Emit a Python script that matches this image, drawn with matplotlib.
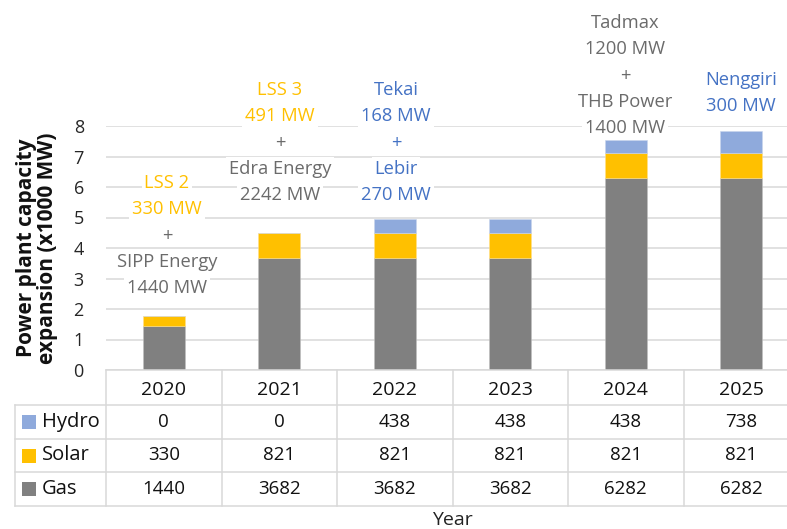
import matplotlib
matplotlib.use("Agg")
import matplotlib.pyplot as plt
from matplotlib.patches import Rectangle
from matplotlib.transforms import blended_transform_factory

plt.rcParams['font.family'] = ['Open Sans', 'DejaVu Sans']

# ---------------- data ----------------
years = ['2020', '2021', '2022', '2023', '2024', '2025']
series_names = ['Hydro', 'Solar', 'Gas']
hydro = [0, 0, 438, 438, 438, 738]
solar = [330, 821, 821, 821, 821, 821]
gas = [1440, 3682, 3682, 3682, 6282, 6282]
yticks = [0, 1, 2, 3, 4, 5, 6, 7, 8]
ylabel = 'Power plant capacity\nexpansion (x1000 MW)'
xlabel = 'Year'

# annotation text per year index: (line text, colour key)
note_2020 = [('LSS 2', 'solar'), ('330 MW', 'solar'), ('+', 'grey'),
             ('SIPP Energy', 'grey'), ('1440 MW', 'grey')]
note_2021 = [('LSS 3', 'solar'), ('491 MW', 'solar'), ('+', 'grey'),
             ('Edra Energy', 'grey'), ('2242 MW', 'grey')]
note_2022 = [('Tekai', 'blue'), ('168 MW', 'blue'), ('+', 'blue'),
             ('Lebir', 'blue'), ('270 MW', 'blue')]
note_2024 = [('Tadmax', 'grey'), ('1200 MW', 'grey'), ('+', 'grey'),
             ('THB Power', 'grey'), ('1400 MW', 'grey')]
note_2025 = [('Nenggiri', 'blue'), ('300 MW', 'blue')]

# ---------------- style ----------------
C_GAS = '#808080'
C_SOLAR = '#FFC000'
C_HYDRO = '#8FAADC'
C_BLUE = '#4472C4'
C_GREY = '#6b6b6b'
C_GRID = '#D9D9D9'
note_colors = {'solar': C_SOLAR, 'grey': C_GREY, 'blue': C_BLUE}

W, H = 787, 529
fig = plt.figure(figsize=(W / 100, H / 100), dpi=100)
ax_left, ax_right, ax_bottom_px, ax_top_px = 106, 799, 370, 126
ax = fig.add_axes([ax_left / W, 1 - ax_bottom_px / H,
                   (ax_right - ax_left) / W, (ax_bottom_px - ax_top_px) / H])

x = list(range(len(years)))
gas_k = [v / 1000 for v in gas]
solar_k = [v / 1000 for v in solar]
hydro_k = [v / 1000 for v in hydro]
bot2 = [g + s for g, s in zip(gas_k, solar_k)]

bw = 0.36
ax.bar(x, gas_k, bw, color=C_GAS, edgecolor='#bfbfbf', linewidth=0.4, zorder=2)
ax.bar(x, solar_k, bw, bottom=gas_k, color=C_SOLAR, edgecolor='#ffe08a', linewidth=0.4, zorder=2)
ax.bar(x, hydro_k, bw, bottom=bot2, color=C_HYDRO, edgecolor='#c9d5ec', linewidth=0.4, zorder=2)

ax.set_xlim(-0.5, len(years) - 0.5)
ax.set_ylim(0, 8)
ax.set_yticks(yticks)
ax.set_yticklabels([str(t) for t in yticks])
ax.yaxis.grid(True, color=C_GRID, linewidth=1.1)
ax.set_axisbelow(True)
for s in ['top', 'right', 'left']:
    ax.spines[s].set_visible(False)
ax.spines['bottom'].set_color(C_GRID)
ax.spines['bottom'].set_linewidth(1.1)
ax.tick_params(axis='y', length=0, pad=16, labelsize=13, labelcolor='#262626')
ax.set_xticks(x)
ax.set_xticklabels(years)
ax.tick_params(axis='x', length=0, pad=8, labelsize=14, labelcolor='#111111')

ax.set_ylabel(ylabel, fontsize=15, fontweight='bold', color='#111111',
              va='center', linespacing=0.95)
ax.yaxis.set_label_coords((37 - ax_left) / (ax_right - ax_left), 0.5)
ax.set_xlabel(xlabel, fontsize=14, color='#222222', va='center')
ax.xaxis.set_label_coords(0.5, -(520 - ax_bottom_px) / (ax_bottom_px - ax_top_px))

# ---------------- annotations ----------------
px_per_unit = (ax_bottom_px - ax_top_px) / 8.0
def py2y(py):
    return (ax_bottom_px - py) / px_per_unit

line_step = 26.3 / px_per_unit
notes = [(0, note_2020, 183, 167), (1, note_2021, 90, 280), (2, note_2022, 90, 396),
         (4, note_2024, 23, 625), (5, note_2025, 80, 741)]
for idx, lines, top_py, cx_px in notes:
    cx = -0.5 + (cx_px - ax_left) / 115.5
    y0 = py2y(top_py)
    for k, (txt, ck) in enumerate(lines):
        ax.text(cx, y0 - k * line_step, txt, ha='center', va='center',
                fontsize=13.2, color=note_colors[ck], zorder=4, clip_on=False,
                bbox=dict(boxstyle='square,pad=0.15', fc='white', ec='none'))

# ---------------- data table ----------------
trans = blended_transform_factory(ax.transData, ax.transAxes)
ax_h = ax_bottom_px - ax_top_px
def ay(py):
    return -(py - ax_bottom_px) / ax_h
def dx(px):
    return -0.5 + (px - ax_left) / 115.5

row_edges = [405, 439, 472, 506]
x_left = dx(15)
x_end = len(years) - 0.5
for py in row_edges:
    ax.plot([x_left, x_end], [ay(py), ay(py)], transform=trans, color=C_GRID,
            lw=1.1, clip_on=False, zorder=1)
ax.plot([x_left, x_left], [ay(405), ay(506)], transform=trans, color=C_GRID,
        lw=1.1, clip_on=False)
for k in range(len(years) + 1):
    ax.plot([k - 0.5, k - 0.5], [0, ay(506)], transform=trans, color=C_GRID,
            lw=1.1, clip_on=False)

table_rows = [('Hydro', hydro, C_HYDRO), ('Solar', solar, C_SOLAR), ('Gas', gas, C_GAS)]
for r, (name, vals, col) in enumerate(table_rows):
    yc = ay((row_edges[r] + row_edges[r + 1]) / 2)
    key_h = 14 / ax_h
    ax.add_patch(Rectangle((dx(22), yc - key_h / 2), dx(36) - dx(22), key_h,
                           transform=trans, facecolor=col, edgecolor='none',
                           clip_on=False))
    ax.text(dx(42), yc, name, transform=trans, ha='left', va='center',
            fontsize=14.5, color='#111111', clip_on=False)
    for i, v in enumerate(vals):
        ax.text(i, yc, str(v), transform=trans, ha='center', va='center',
                fontsize=13.5, color='#111111', clip_on=False)

fig.savefig('out.png', dpi=100)
